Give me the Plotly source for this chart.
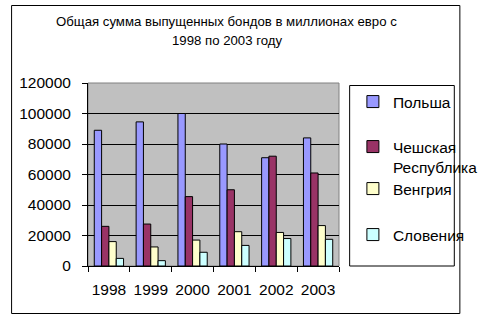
import plotly.graph_objects as go

years = ["1998", "1999", "2000", "2001", "2002", "2003"]
series_names = ["Польша", "Чешская<br>Республика", "Венгрия", "Словения"]
poland = [89000, 94500, 100000, 80000, 71000, 84000]
czech = [26000, 27500, 45500, 50000, 72000, 61000]
hungary = [16000, 12500, 17000, 22500, 22000, 26500]
slovenia = [5000, 3500, 9000, 13500, 18000, 17500]
colors = ["#9999FF", "#993366", "#FFFFCC", "#CCFFFF"]
title_lines = ["Общая сумма выпущенных бондов в миллионах евро с", "1998 по 2003 году"]

W, H = 495, 320
L, R, T, B = 88, 136, 83, 54
pw, ph = W - L - R, H - T - B

def px_x(x):
    return (x - L) / pw

def px_y(y):
    return (H - B - y) / ph

legend_ids = ["legend", "legend2", "legend3", "legend4"]
legend_tops = [85, 130, 172, 218]

fig = go.Figure()
for name, vals, col, lid in zip(series_names, [poland, czech, hungary, slovenia], colors, legend_ids):
    fig.add_trace(go.Bar(
        x=years, y=vals, name=name, legend=lid,
        marker=dict(color=col, line=dict(color="black", width=1)),
    ))

font_fam = "Liberation Sans, Arial, sans-serif"
legend_layout = {}
for lid, top in zip(legend_ids, legend_tops):
    legend_layout[lid] = dict(
        x=px_x(374), y=px_y(top), xanchor="left", yanchor="top",
        bgcolor="rgba(0,0,0,0)", borderwidth=0,
        font=dict(size=15.5, family=font_fam), valign="top", itemwidth=30,
    )

title_ys = [21.5, 41]
annotations = [
    dict(text=t, xref="paper", yref="paper", x=px_x(238), y=px_y(yy),
         xanchor="center", yanchor="middle", showarrow=False,
         font=dict(size=13.2, family=font_fam))
    for t, yy in zip(title_lines, title_ys)
]

fig.update_layout(
    width=W, height=H,
    margin=dict(l=L, r=R, t=T, b=B),
    paper_bgcolor="white",
    plot_bgcolor="#C0C0C0",
    barmode="group",
    bargap=0.3,
    bargroupgap=0,
    font=dict(family=font_fam, color="black"),
    showlegend=True,
    xaxis=dict(
        type="category", showline=True, linecolor="black", linewidth=1,
        ticks="outside", tickson="boundaries", ticklen=5, tickcolor="black",
        tickfont=dict(size=15.5), showgrid=False, tickangle=0,
        ticklabelstandoff=9,
    ),
    yaxis=dict(
        range=[0, 120000], dtick=20000, tickformat="d", showline=True,
        linecolor="black", linewidth=1,
        ticks="outside", ticklen=5, tickcolor="black", tickfont=dict(size=15.5),
        showgrid=True, gridcolor="black", gridwidth=1, zeroline=False,
        ticklabelstandoff=8,
    ),
    annotations=annotations,
    shapes=[
        dict(type="rect", xref="paper", yref="paper", x0=0, x1=1, y0=0, y1=1,
             line=dict(color="#808080", width=1), layer="below"),
        dict(type="rect", xref="paper", yref="paper", x0=px_x(370.5), x1=px_x(483.5),
             y0=px_y(266), y1=px_y(85.5), line=dict(color="black", width=1)),
        dict(type="rect", xref="paper", yref="paper", x0=px_x(5.5), x1=px_x(489.5),
             y0=px_y(313.5), y1=px_y(5.5), line=dict(color="black", width=1)),
    ],
    **legend_layout,
)

fig.write_html("out.html")
